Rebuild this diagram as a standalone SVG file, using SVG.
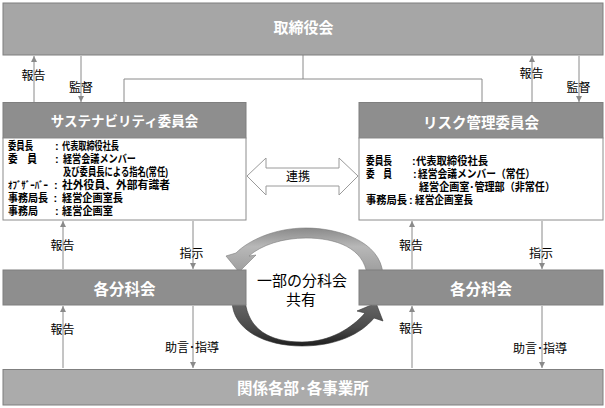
<svg xmlns="http://www.w3.org/2000/svg" width="605" height="408" viewBox="0 0 605 408">
<style>
text{font-family:"Liberation Sans","Noto Sans CJK JP","Noto Sans CJK SC",sans-serif;}
.bx{stroke:#7f7f7f;stroke-width:1;}
.top{fill:#a6a6a6;}
.hd{fill:#8e8e8e;}
.bot{fill:#ababab;}
.body{fill:#ffffff;stroke:#8c8c8c;stroke-width:1;}
.t{fill:#ffffff;font-weight:bold;text-anchor:middle;}
.b{fill:#000000;font-weight:bold;font-size:11px;}
.l{fill:#000000;font-size:12px;text-anchor:middle;}
.c{fill:none;stroke:#8a8a8a;stroke-width:1;}
.a{fill:none;stroke:#8a8a8a;stroke-width:1;marker-end:url(#ah);}
</style>
<defs>
<marker id="ah" markerUnits="userSpaceOnUse" markerWidth="6" markerHeight="6" refX="6" refY="3" orient="auto">
<path d="M0,0 L6,3 L0,6 Z" fill="#8a8a8a"/>
</marker>
<linearGradient id="gTop" x1="0" y1="0" x2="0" y2="1">
<stop offset="0" stop-color="#8a8a8a"/>
<stop offset="0.4" stop-color="#b8b8b8"/>
<stop offset="1" stop-color="#9a9a9a"/>
</linearGradient>
<linearGradient id="gBot" x1="0" y1="0" x2="0" y2="1">
<stop offset="0" stop-color="#6a6a6a"/>
<stop offset="0.6" stop-color="#4a4a4a"/>
<stop offset="1" stop-color="#1e1e1e"/>
</linearGradient>
</defs>

<g id="share-arrows">
<path d="M383 275 C381 240,336 228,306 228 C275 228,249 240,236 253 L226 256 L239 272 L256 255 L249 256 C261 245,283 238,306 238 C336 238,364 248,367 275 Z" fill="url(#gTop)" stroke="#7a7a7a" stroke-width="0.6"/>
<path d="M232 300 C232 330,265 346,302 346 C336 346,361 334,374 318 L383 321 L376 303 L357 311 L365 313 C352 328,330 342,302 342 C270 342,248 330,245 300 Z" fill="url(#gBot)" stroke="#333333" stroke-width="0.6"/>
</g>

<g id="connectors">
<path class="c" d="M303 55 L303 79"/>
<path class="c" d="M124 103 L124 79 L482 79 L482 103"/>
<path class="a" d="M34 102 L34 56"/>
<path class="a" d="M81 56 L81 102"/>
<path class="a" d="M532 102 L532 56"/>
<path class="a" d="M579 56 L579 102"/>
<path class="a" d="M63 269 L63 221"/>
<path class="a" d="M193 221 L193 269"/>
<path class="a" d="M412 269 L412 221"/>
<path class="a" d="M542 221 L542 269"/>
<path class="a" d="M63 368 L63 306"/>
<path class="a" d="M193 306 L193 368"/>
<path class="a" d="M412 368 L412 306"/>
<path class="a" d="M542 306 L542 368"/>
<text class="l" x="33.5" y="79.5">報告</text>
<text class="l" x="81" y="91.5">監督</text>
<text class="l" x="531.5" y="77.5">報告</text>
<text class="l" x="578.5" y="91.5">監督</text>
<text class="l" x="62.5" y="249.5">報告</text>
<text class="l" x="191.5" y="257.5">指示</text>
<text class="l" x="411" y="249.5">報告</text>
<text class="l" x="541" y="257.5">指示</text>
<text class="l" x="62.5" y="333.5">報告</text>
<text class="l" x="192" y="351.5">助言･指導</text>
<text class="l" x="411" y="332.5">報告</text>
<text class="l" x="540" y="352.5">助言･指導</text>
<polygon points="247,176 266,158 266,168 339,168 339,158 358,176 339,195 339,186 266,186 266,195" fill="#ffffff" stroke="#9a9a9a" stroke-width="1"/>
<text class="l" x="298" y="180.5">連携</text>
</g>

<g id="board">
<rect class="bx top" x="3" y="3" width="600" height="52"/>
<text class="t" x="303.5" y="33" font-size="15">取締役会</text>
</g>

<g id="sustainability-committee">
<rect class="bx hd" x="3" y="102.5" width="243" height="35.5"/>
<text class="t" x="124.5" y="126" font-size="13.5">サステナビリティ委員会</text>
<rect class="body" x="3" y="138" width="243" height="82"/>
<text class="b" y="150"><tspan x="8" textLength="25" lengthAdjust="spacingAndGlyphs">委員長</tspan><tspan x="55">:</tspan><tspan x="62" textLength="57" lengthAdjust="spacingAndGlyphs">代表取締役社長</tspan></text>
<text class="b" y="163"><tspan x="8" textLength="29" lengthAdjust="spacingAndGlyphs">委　員</tspan><tspan x="55">:</tspan><tspan x="63" textLength="73" lengthAdjust="spacingAndGlyphs">経営会議メンバー</tspan></text>
<text class="b" x="63" y="176" textLength="105" lengthAdjust="spacingAndGlyphs">及び委員長による指名(常任)</text>
<text class="b" y="189"><tspan x="8" textLength="40" lengthAdjust="spacingAndGlyphs" font-size="10.5">ｵﾌﾞｻﾞｰﾊﾞｰ</tspan><tspan x="54">:</tspan><tspan x="62" textLength="108" lengthAdjust="spacingAndGlyphs">社外役員、外部有識者</tspan></text>
<text class="b" y="202"><tspan x="8" textLength="40" lengthAdjust="spacingAndGlyphs">事務局長</tspan><tspan x="53.5">:</tspan><tspan x="62" textLength="61" lengthAdjust="spacingAndGlyphs">経営企画室長</tspan></text>
<text class="b" y="215"><tspan x="8" textLength="30" lengthAdjust="spacingAndGlyphs">事務局</tspan><tspan x="55">:</tspan><tspan x="62" textLength="51" lengthAdjust="spacingAndGlyphs">経営企画室</tspan></text>
</g>

<g id="risk-committee">
<rect class="bx hd" x="359" y="102.5" width="244" height="35.5"/>
<text class="t" x="481" y="128" font-size="14.5">リスク管理委員会</text>
<rect class="body" x="359" y="138" width="244" height="82"/>
<text class="b" y="165"><tspan x="366" textLength="26" lengthAdjust="spacingAndGlyphs">委員長</tspan><tspan x="412">:</tspan><tspan x="416" textLength="72" lengthAdjust="spacingAndGlyphs">代表取締役社長</tspan></text>
<text class="b" y="178"><tspan x="366" textLength="26" lengthAdjust="spacingAndGlyphs">委　員</tspan><tspan x="413">:</tspan><tspan x="418" textLength="117" lengthAdjust="spacingAndGlyphs">経営会議メンバー（常任）</tspan></text>
<text class="b" x="419" y="191" textLength="136" lengthAdjust="spacingAndGlyphs">経営企画室･管理部（非常任）</text>
<text class="b" y="204"><tspan x="366" textLength="41" lengthAdjust="spacingAndGlyphs">事務局長</tspan><tspan x="409">:</tspan><tspan x="415" textLength="58" lengthAdjust="spacingAndGlyphs">経営企画室長</tspan></text>
</g>

<g id="subcommittee-left">
<rect class="bx hd" x="3" y="270" width="243" height="35"/>
<text class="t" x="124.5" y="295" font-size="15.5">各分科会</text>
</g>

<g id="subcommittee-right">
<rect class="bx hd" x="359" y="270" width="244" height="35"/>
<text class="t" x="481" y="295" font-size="15.5">各分科会</text>
</g>

<g id="shared-label">
<text x="302" y="286" font-size="15" text-anchor="middle" fill="#000000">一部の分科会</text>
<text x="301" y="305" font-size="15" text-anchor="middle" fill="#000000">共有</text>
</g>

<g id="departments">
<rect class="bx bot" x="3" y="369.5" width="600" height="35.5"/>
<text class="t" x="303" y="394" font-size="15.5">関係各部･各事業所</text>
</g>
</svg>
